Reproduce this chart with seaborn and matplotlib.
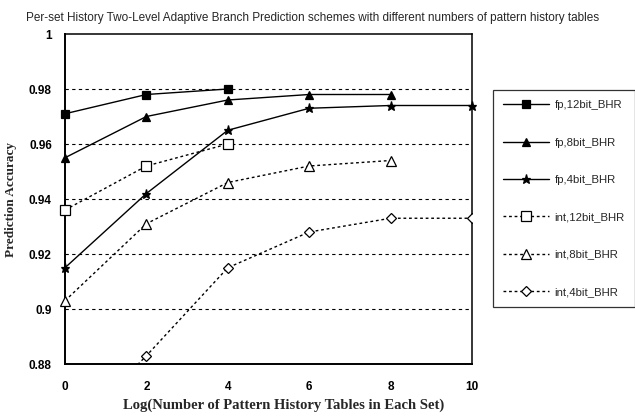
import numpy as np
import pandas as pd
import matplotlib
matplotlib.use("Agg")
import matplotlib.pyplot as plt
from matplotlib.ticker import FuncFormatter
import seaborn as sns

# ---- data ----
log_tables = [0, 2, 4, 6, 8, 10]
fp_12bit = [0.971, 0.978, 0.980]
fp_8bit = [0.955, 0.970, 0.976, 0.978, 0.978]
fp_4bit = [0.915, 0.942, 0.965, 0.973, 0.974, 0.974]
int_12bit = [0.936, 0.952, 0.960]
int_8bit = [0.903, 0.931, 0.946, 0.952, 0.954]
int_4bit = [0.853, 0.883, 0.915, 0.928, 0.933, 0.933]

series_names = ["fp,12bit_BHR", "fp,8bit_BHR", "fp,4bit_BHR",
                "int,12bit_BHR", "int,8bit_BHR", "int,4bit_BHR"]
series_values = [fp_12bit, fp_8bit, fp_4bit, int_12bit, int_8bit, int_4bit]
y_ticks = [0.88, 0.9, 0.92, 0.94, 0.96, 0.98, 1.0]

# style per series: marker, marker size, face colour, line style
styles = {
    "fp,12bit_BHR": ("s", 5.5, "black", "-"),
    "fp,8bit_BHR": ("^", 5.5, "black", "-"),
    "fp,4bit_BHR": ("*", 6.5, "black", "-"),
    "int,12bit_BHR": ("s", 6.5, "white", (0, (2, 2))),
    "int,8bit_BHR": ("^", 6.5, "white", (0, (2, 2))),
    "int,4bit_BHR": ("D", 5.5, "white", (0, (2, 2))),
}

sns.set_style("white")
plt.rcParams["font.family"] = ["Liberation Sans", "DejaVu Sans"]

fig = plt.figure(figsize=(6.35, 4.19), dpi=100)
ax = fig.add_axes([65 / 635, 1 - 364 / 419, 407 / 635, 330 / 419])

for name, vals in zip(series_names, series_values):
    df = pd.DataFrame({"x": log_tables[:len(vals)], "y": vals})
    mk, ms, mfc, ls = styles[name]
    sns.lineplot(data=df, x="x", y="y", ax=ax, color="black", lw=1.0,
                 linestyle=ls, marker=mk, markersize=ms, markerfacecolor=mfc,
                 markeredgecolor="black", markeredgewidth=0.9, label=name,
                 clip_on=(name == "int,4bit_BHR"), zorder=3)

ax.set_xlim(0, 10)
ax.set_ylim(0.88, 1.0)
ax.set_xticks(log_tables)
ax.set_yticks(y_ticks)
ax.yaxis.set_major_formatter(FuncFormatter(lambda v, p: f"{v:g}"))

# dashed horizontal grid
for yv in y_ticks[1:-1]:
    ax.axhline(yv, color="black", lw=0.8, linestyle=(0, (3, 3)), zorder=1)

for side in ["left", "bottom"]:
    ax.spines[side].set_linewidth(1.4)
for side in ["top", "right"]:
    ax.spines[side].set_linewidth(1.1)
for s in ax.spines.values():
    s.set_color("black")

ax.tick_params(axis="both", direction="inout", length=7, width=0.9,
               colors="black", labelsize=8.5, pad=6)
ax.tick_params(axis="x", pad=9)
for lab in ax.get_xticklabels() + ax.get_yticklabels():
    lab.set_fontweight("bold")

serif = ["Liberation Serif", "DejaVu Serif"]
ax.set_xlabel("Log(Number of Pattern History Tables in Each Set)",
              family=serif, fontweight="bold", fontsize=10.5)
ax.xaxis.set_label_coords(0.538, -0.105)
ax.set_ylabel("Prediction Accuracy", family=serif, fontweight="bold", fontsize=9.5)
ax.yaxis.set_label_coords(-0.118, 0.5)

fig.text(0.493, 0.957,
         "Per-set History Two-Level Adaptive Branch Prediction schemes with "
         "different numbers of pattern history tables",
         ha="center", va="center", fontsize=8.5)

handles, labels = ax.get_legend_handles_labels()
leg = ax.legend(handles, labels, loc="upper left",
                bbox_to_anchor=(493 / 635, 1 - 90 / 419),
                bbox_transform=fig.transFigure, frameon=True, fancybox=False,
                edgecolor="black", fontsize=8.2, handlelength=4.0,
                labelspacing=2.4, borderpad=0.9, handletextpad=0.5,
                borderaxespad=0)
leg.get_frame().set_linewidth(0.9)

fig.savefig("out.png", dpi=100)
